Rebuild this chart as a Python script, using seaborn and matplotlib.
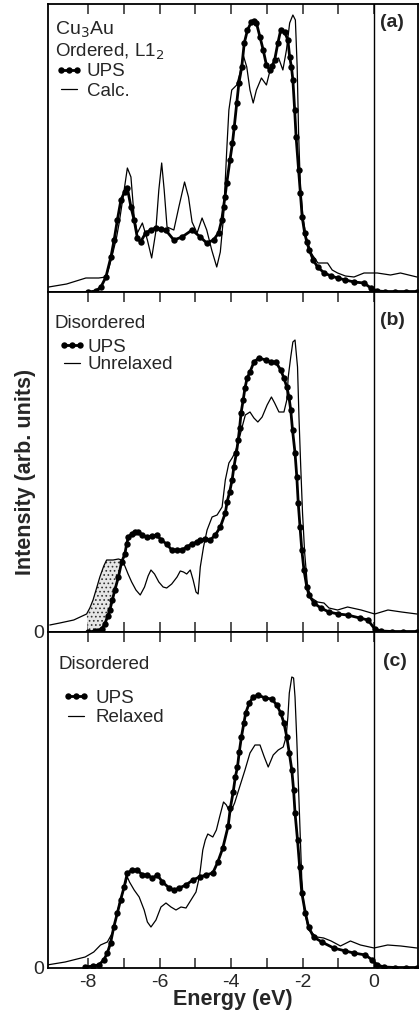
import numpy as np
import matplotlib
matplotlib.use("Agg")
import matplotlib.pyplot as plt
from matplotlib.lines import Line2D
from matplotlib.ticker import FuncFormatter
import seaborn as sns

# ---------------- data (energy in eV, intensity in arb. units) ----------------
# Panel (a): ordered Cu3Au
ups_a_E = [-8.0, -7.78, -7.64, -7.5, -7.36, -7.27, -7.18, -7.08, -6.98, -6.9, -6.8, -6.71, -6.62, -6.53,
           -6.39, -6.25, -6.11, -5.97, -5.83, -5.6, -5.37, -5.09, -4.86, -4.68, -4.49, -4.35, -4.26, -4.21,
           -4.17, -4.12, -4.03, -3.96, -3.91, -3.84, -3.78, -3.70, -3.63, -3.54, -3.43, -3.36, -3.29, -3.19,
           -3.10, -3.01, -2.92, -2.85, -2.78, -2.69, -2.61, -2.50, -2.41, -2.36, -2.31, -2.27, -2.22, -2.18,
           -2.11, -2.06, -2.01, -1.94, -1.88, -1.81, -1.70, -1.58, -1.39, -1.2, -1.02, -0.8, -0.56, -0.28,
           -0.09, 0.09, 0.3, 0.6, 0.9, 1.2]
ups_a_I = [0, 1, 5, 15, 35, 52, 72, 92, 100, 104, 85, 72, 54, 50,
           59, 62, 64, 63, 62, 52, 55, 62, 55, 49, 52, 59, 72, 85,
           95, 109, 132, 149, 165, 189, 209, 225, 249, 262, 270, 271, 269, 255,
           242, 227, 222, 226, 232, 249, 262, 260, 252, 235, 225, 212, 182, 155,
           122, 99, 75, 59, 50, 42, 32, 25, 19, 16, 14, 12, 10, 9,
           4, 1, 0.5, 0.5, 0.5, 0.5]
calc_a_E = [-9.1, -8.6, -8.06, -7.7, -7.5, -7.41, -7.3, -7.2, -7.13, -6.99, -6.9, -6.8, -6.71, -6.62,
            -6.48, -6.34, -6.22, -6.11, -6.02, -5.94, -5.87, -5.79, -5.6, -5.46, -5.3, -5.19, -5.09, -4.95,
            -4.81, -4.68, -4.54, -4.4, -4.3, -4.21, -4.12, -4.06, -3.98, -3.84, -3.75, -3.66, -3.56, -3.47,
            -3.38, -3.29, -3.15, -3.01, -2.92, -2.78, -2.67, -2.55, -2.45, -2.36, -2.27, -2.2, -2.15, -2.11,
            -2.06, -1.99, -1.9, -1.76, -1.57, -1.3, -1.17, -1.02, -0.8, -0.56, -0.28, 0.09, 0.46, 0.74, 1.2]
calc_a_I = [5, 8, 14, 14, 15, 25, 40, 55, 69, 102, 124, 115, 75, 59,
            69, 52, 34, 59, 102, 129, 102, 65, 62, 85, 110, 95, 70, 59,
            74, 62, 42, 25, 40, 75, 142, 182, 202, 207, 219, 237, 225, 202,
            189, 202, 214, 207, 220, 232, 234, 222, 242, 269, 277, 272, 225, 159,
            105, 75, 55, 39, 29, 29, 22, 19, 16, 15, 19, 19, 17, 19, 15]

# Panel (b): disordered, unrelaxed
ups_b_E = [-8.0, -7.8, -7.62, -7.53, -7.45, -7.39, -7.32, -7.25, -7.15, -7.06, -6.97, -6.92, -6.87, -6.78,
           -6.68, -6.59, -6.48, -6.36, -6.22, -6.08, -5.95, -5.8, -5.66, -5.51, -5.38, -5.24, -5.1, -4.96,
           -4.86, -4.72, -4.58, -4.44, -4.3, -4.16, -4.11, -4.04, -3.97, -3.92, -3.85, -3.8, -3.76, -3.72,
           -3.66, -3.61, -3.55, -3.47, -3.36, -3.22, -3.03, -2.89, -2.75, -2.61, -2.52, -2.44, -2.38, -2.33,
           -2.28, -2.21, -2.16, -2.12, -2.07, -2.02, -1.96, -1.88, -1.82, -1.68, -1.49, -1.26, -1.0, -0.74,
           -0.4, -0.17, 0.02, 0.2, 0.5, 0.8, 1.2]
ups_b_I = [0, 1, 3, 8, 16, 22, 32, 42, 55, 70, 78, 88, 95, 98,
           100, 100, 97, 95, 96, 97, 92, 88, 82, 82, 82, 85, 88, 90,
           92, 93, 92, 97, 105, 119, 130, 140, 152, 165, 179, 192, 204, 219,
           232, 244, 254, 260, 270, 274, 272, 270, 270, 262, 254, 245, 235, 222,
           202, 179, 155, 129, 105, 82, 62, 45, 37, 29, 24, 20, 18, 17,
           14, 12, 3, 1, 0.5, 0.5, 0.5]
calc_b_E = [-9.07, -8.79, -8.4, -8.04, -7.95, -7.86, -7.76, -7.67, -7.56, -7.48, -7.3, -7.15, -7.06, -6.97,
            -6.88, -6.78, -6.66, -6.54, -6.42, -6.32, -6.24, -6.14, -6.02, -5.9, -5.8, -5.66, -5.51, -5.42,
            -5.33, -5.24, -5.14, -5.06, -4.98, -4.92, -4.86, -4.77, -4.67, -4.53, -4.39, -4.25, -4.16, -4.06,
            -3.97, -3.88, -3.78, -3.69, -3.6, -3.47, -3.36, -3.25, -3.13, -2.99, -2.87, -2.78, -2.66, -2.52,
            -2.44, -2.4, -2.33, -2.27, -2.21, -2.14, -2.1, -2.05, -2.0, -1.94, -1.86, -1.75, -1.58, -1.4,
            -1.26, -1.02, -0.74, -0.36, 0.02, 0.39, 0.77, 1.2]
calc_b_I = [7, 9, 12, 18, 24, 32, 44, 55, 66, 72, 72, 73, 72, 66,
            58, 50, 42, 37, 45, 56, 62, 58, 50, 45, 44, 48, 55, 61,
            60, 58, 62, 52, 40, 38, 65, 85, 102, 115, 117, 125, 152, 169,
            174, 180, 192, 205, 217, 220, 214, 210, 215, 227, 235, 229, 220, 220,
            232, 255, 275, 290, 292, 265, 215, 165, 119, 79, 45, 34, 30, 29,
            24, 22, 25, 22, 18, 22, 20, 18]
shade_b_range = (-8.05, -7.06)   # low-energy region where Unrelaxed exceeds UPS

# Panel (c): disordered, relaxed
ups_c_E = [-8.08, -7.85, -7.7, -7.56, -7.46, -7.37, -7.28, -7.18, -7.09, -6.99, -6.9, -6.76, -6.62, -6.48,
           -6.34, -6.2, -6.06, -5.92, -5.73, -5.59, -5.45, -5.26, -5.07, -4.88, -4.7, -4.51, -4.37, -4.23,
           -4.08, -4.02, -3.94, -3.88, -3.82, -3.77, -3.71, -3.64, -3.59, -3.49, -3.38, -3.24, -3.05, -2.86,
           -2.72, -2.61, -2.52, -2.44, -2.37, -2.3, -2.25, -2.21, -2.14, -2.08, -2.02, -1.92, -1.83, -1.69,
           -1.46, -1.13, -0.8, -0.57, -0.24, -0.05, 0.09, 0.28, 0.6, 0.9, 1.2]
ups_c_I = [1, 2, 3, 8, 15, 25, 41, 55, 68, 81, 95, 98, 98, 93,
           93, 90, 93, 86, 80, 78, 80, 83, 88, 91, 93, 95, 106, 120,
           142, 160, 176, 191, 201, 216, 231, 245, 255, 265, 271, 273, 270, 269,
           263, 255, 245, 231, 215, 198, 178, 155, 128, 101, 75, 55, 41, 31,
           26, 20, 17, 15, 13, 8, 3, 1, 0.5, 0.5, 0.5]
calc_c_E = [-9.15, -8.64, -8.08, -7.84, -7.65, -7.46, -7.32, -7.23, -7.12, -6.99, -6.9, -6.84, -6.71, -6.57,
            -6.43, -6.34, -6.24, -6.1, -5.96, -5.82, -5.68, -5.54, -5.4, -5.26, -5.12, -4.98, -4.88, -4.79,
            -4.72, -4.65, -4.51, -4.41, -4.32, -4.21, -4.13, -4.02, -3.9, -3.76, -3.61, -3.47, -3.33, -3.19,
            -3.07, -2.96, -2.82, -2.68, -2.54, -2.46, -2.41, -2.37, -2.3, -2.25, -2.21, -2.16, -2.11, -2.06,
            -2.02, -1.95, -1.83, -1.6, -1.41, -1.2, -0.94, -0.66, -0.38, 0.0, 0.38, 0.75, 1.2]
calc_c_I = [3, 6, 11, 16, 23, 26, 35, 48, 65, 80, 91, 86, 78, 71,
            58, 46, 41, 48, 61, 65, 61, 58, 61, 60, 68, 76, 92, 118,
            128, 134, 131, 138, 151, 166, 163, 155, 165, 181, 198, 215, 223, 223,
            211, 201, 213, 218, 221, 231, 251, 275, 291, 290, 271, 228, 178, 128,
            88, 58, 38, 31, 30, 27, 22, 27, 23, 20, 23, 22, 20]

tick_positions = [-8, -7, -6, -5, -4, -3, -2, -1, 0]
tick_labels = {-8: "-8", -6: "-6", -4: "-4", -2: "-2", 0: "0"}
panel_tags = ["(a)", "(b)", "(c)"]
calc_names = ["Calc.", "Unrelaxed", "Relaxed"]

# ---------------- style ----------------
sns.set_style("ticks")
plt.rcParams["font.family"] = ["Liberation Sans", "DejaVu Sans"]
plt.rcParams["axes.unicode_minus"] = False
plt.rcParams["hatch.linewidth"] = 0.7
plt.rcParams["hatch.color"] = "#333333"

W, H = 419, 1023
fig = plt.figure(figsize=(W / 100, H / 100), dpi=100)


def rect(top, bottom, left=48, right=418):
    return [left / W, 1 - bottom / H, (right - left) / W, (bottom - top) / H]


def ftext(x, y, s, **kw):
    fig.text(x / W, 1 - y / H, s, **kw)


panels = [
    dict(rect=rect(4, 292), ymax=288, ups=(ups_a_E, ups_a_I), calc=(calc_a_E, calc_a_I),
         leg=(0.019, 0.795), lsp=0.12, htp=0.25),
    dict(rect=rect(292, 632), ymax=340, ups=(ups_b_E, ups_b_I), calc=(calc_b_E, calc_b_I),
         leg=(0.027, 0.862), lsp=0.0, htp=0.1),
    dict(rect=rect(632, 968), ymax=336, ups=(ups_c_E, ups_c_I), calc=(calc_c_E, calc_c_I),
         leg=(0.038, 0.828), lsp=0.12, htp=0.35),
]

UPS_LW, UPS_MS, CALC_LW = 2.0, 4.6, 0.9
axes = []
for i, p in enumerate(panels):
    ax = fig.add_axes(p["rect"])
    axes.append(ax)
    ue, ui = p["ups"]
    ce, ci = p["calc"]
    sns.lineplot(x=ce, y=ci, ax=ax, color="black", lw=CALC_LW, estimator=None, zorder=3)
    sns.lineplot(x=ue, y=ui, ax=ax, color="black", lw=UPS_LW, marker="o", markersize=UPS_MS,
                 markeredgecolor="black", markeredgewidth=0, estimator=None, zorder=4)
    ax.axvline(0, color="black", lw=1.0, zorder=2)
    ax.set_xlim(-9.12, 1.23)
    ax.set_ylim(0, p["ymax"])
    ax.set_xlabel("")
    ax.set_ylabel("")
    for s in ax.spines.values():
        s.set_linewidth(1.3)
        s.set_color("black")
    ax.set_xticks(tick_positions)
    ax.xaxis.set_major_formatter(FuncFormatter(lambda v, pos: tick_labels.get(int(round(v)), "")))
    ax.tick_params(axis="x", direction="in", length=7, width=1.1, top=True,
                   bottom=(i > 0), labelbottom=(i == 2), labelsize=14, pad=4)
    if i == 0:
        ax.set_yticks([])
    else:
        ax.set_yticks([0])
        ax.set_yticklabels(["0"])
        ax.tick_params(axis="y", length=0, labelsize=14, pad=3)
    handles = [Line2D([], [], color="black", lw=UPS_LW, marker="o", ms=UPS_MS, mew=0),
               Line2D([], [], color="black", lw=CALC_LW)]
    ax.legend(handles, ["UPS", calc_names[i]], loc="upper left", bbox_to_anchor=p["leg"],
              frameon=False, fontsize=13.5, handlelength=1.45, handletextpad=p["htp"],
              labelspacing=p["lsp"], borderpad=0, borderaxespad=0, numpoints=3)

# shaded region in panel (b): Unrelaxed above UPS at the low-energy edge
ax_b = axes[1]
ce = np.array(calc_b_E); ci = np.array(calc_b_I)
ue = np.array(ups_b_E); ui = np.array(ups_b_I)
mc = (ce >= shade_b_range[0]) & (ce <= shade_b_range[1])
mu = (ue >= shade_b_range[0]) & (ue <= shade_b_range[1])
poly_x = np.concatenate([ce[mc], ue[mu][::-1]])
poly_y = np.concatenate([ci[mc], ui[mu][::-1]])
ax_b.fill(poly_x, poly_y, facecolor="#e6e6e6", edgecolor="#333333", hatch="....", lw=0, zorder=2)

# text annotations
ftext(55, 35, "Cu$_3$Au", fontsize=14, va="baseline")
ftext(55, 57, "Ordered, L1$_2$", fontsize=13.5, va="baseline")
ftext(54, 328, "Disordered", fontsize=13.5, va="baseline")
ftext(58, 669, "Disordered", fontsize=13.5, va="baseline")
ftext(380, 27, panel_tags[0], fontsize=14, fontweight="bold", va="baseline")
ftext(380, 325, panel_tags[1], fontsize=14, fontweight="bold", va="baseline")
ftext(383, 666, panel_tags[2], fontsize=14, fontweight="bold", va="baseline")
ftext(25, 472, "Intensity (arb. units)", fontsize=15.5, fontweight="bold", rotation=90,
      ha="center", va="center")
ftext(233, 1005, "Energy (eV)", fontsize=15.5, fontweight="bold", ha="center", va="baseline")

fig.savefig("out.png", dpi=100)
